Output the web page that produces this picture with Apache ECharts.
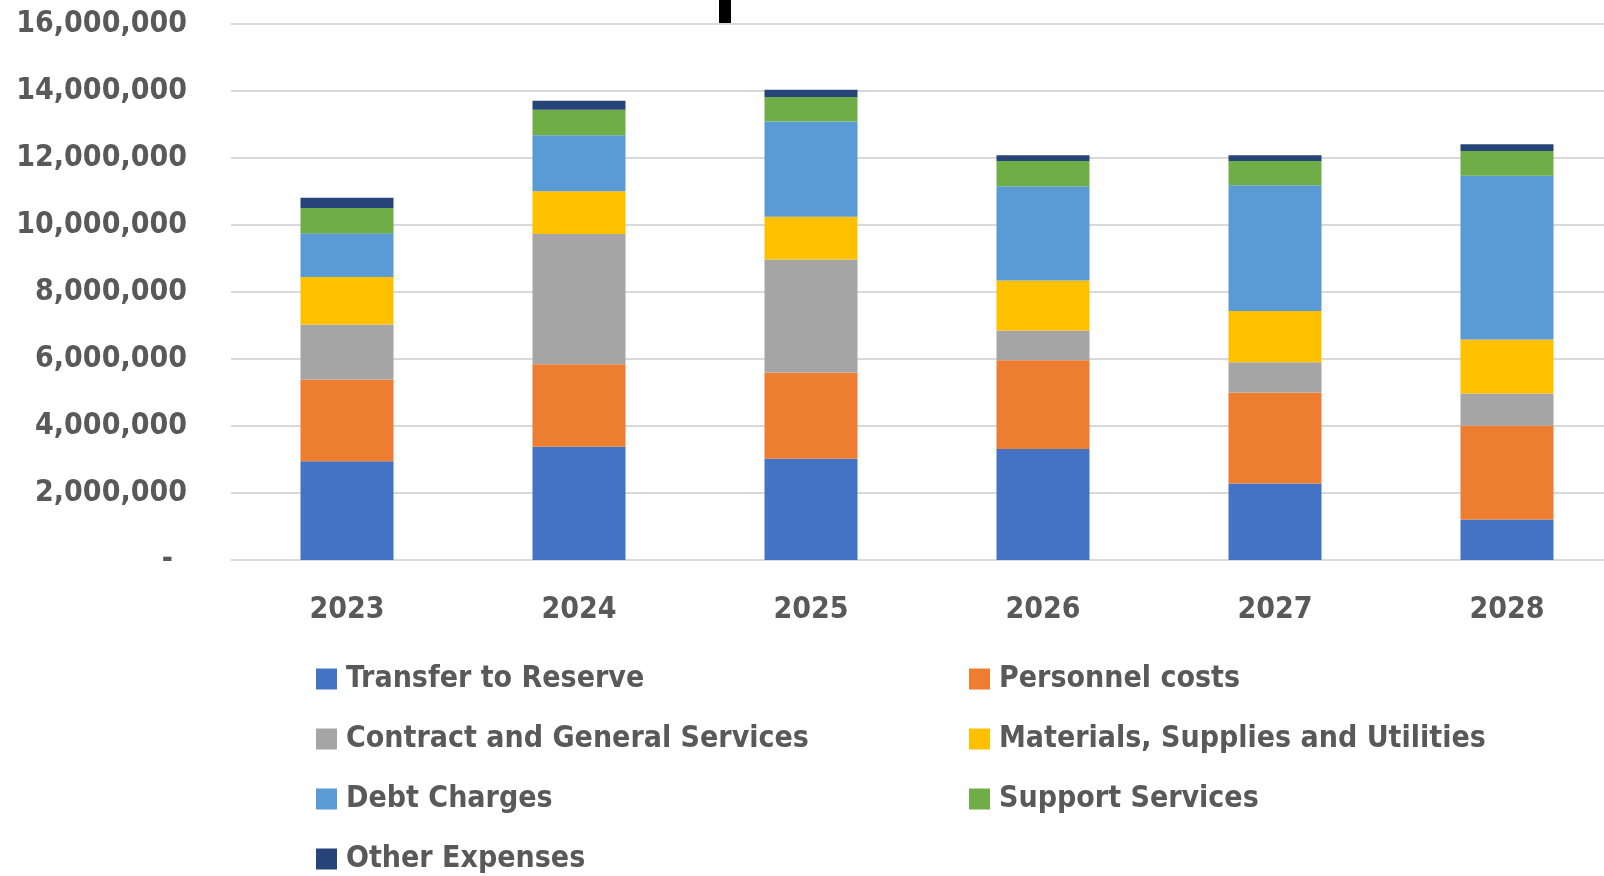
<!DOCTYPE html>
<html>
<head>
<meta charset="utf-8">
<script src="https://cdn.jsdelivr.net/npm/echarts@6/dist/echarts.min.js"></script>
<style>
  html, body { margin: 0; padding: 0; background: #fff; }
  #chart { width: 1604px; height: 876px; }
</style>
</head>
<body>
<div id="chart"></div>
<script>
// Years on the x axis
const years = ['2023', '2024', '2025', '2026', '2027', '2028'];

// Expense categories (stack order, bottom to top)
const transferToReserve = [2950000, 3380000, 3020000, 3310000, 2280000, 1210000];
const personnelCosts = [2440000, 2460000, 2580000, 2650000, 2720000, 2800000];
const contractServices = [1640000, 3890000, 3370000, 890000, 900000, 960000];
const materialsSupplies = [1420000, 1280000, 1280000, 1490000, 1530000, 1610000];
const debtCharges = [1300000, 1670000, 2840000, 2820000, 3760000, 4890000];
const supportServices = [760000, 760000, 730000, 750000, 720000, 740000];
const otherExpenses = [300000, 270000, 220000, 170000, 170000, 200000];

const seriesNames = [
    'Transfer to Reserve', 'Personnel costs', 'Contract and General Services',
    'Materials, Supplies and Utilities', 'Debt Charges', 'Support Services', 'Other Expenses'
];
const seriesData = [
    transferToReserve, personnelCosts, contractServices,
    materialsSupplies, debtCharges, supportServices, otherExpenses
];
const colors = ['#4472C4', '#ED7D31', '#A5A5A5', '#FFC000', '#5B9BD5', '#70AD47', '#264478'];

const font = "'Liberation Sans Narrow', 'DejaVu Sans Condensed', 'Open Sans', sans-serif";
const textColor = '#595959';

const chart = echarts.init(document.getElementById('chart'));

// two legend columns, like the original layout
const legendStyle = {
    orient: 'vertical',
    icon: 'rect',
    itemWidth: 21,
    itemHeight: 21,
    itemGap: 30,
    top: 664,
    padding: 0,
    textStyle: { fontFamily: font, fontSize: 30, fontWeight: 'bold', color: textColor, lineHeight: 30, padding: [0, 0, 0, 4] }
};

chart.setOption({
    color: colors,
    animation: false,
    grid: { left: 231, right: -19, top: 24, bottom: 316, outerBoundsMode: 'none' },
    legend: [
        Object.assign({}, legendStyle, { left: 316, data: [seriesNames[0], seriesNames[2], seriesNames[4], seriesNames[6]] }),
        Object.assign({}, legendStyle, { left: 969, data: [seriesNames[1], seriesNames[3], seriesNames[5]] })
    ],
    xAxis: {
        type: 'category',
        data: years,
        axisLine: { show: false },
        axisTick: { show: false },
        axisLabel: { fontFamily: font, fontSize: 30, fontWeight: 'bold', color: textColor, margin: 35 }
    },
    yAxis: {
        type: 'value',
        min: 0,
        max: 16000000,
        interval: 2000000,
        axisLine: { show: false },
        axisTick: { show: false },
        splitLine: { lineStyle: { color: '#d9d9d9', width: 2 } },
        axisLabel: {
            fontFamily: font, fontSize: 30, fontWeight: 'bold', color: textColor, margin: 44,
            formatter: function (v) {
                return v === 0 ? '{z|-}' : v.toLocaleString('en-US');
            },
            rich: { z: { fontFamily: font, fontSize: 30, fontWeight: 'bold', color: textColor, padding: [0, 14, 0, 0] } }
        }
    },
    graphic: [
        { type: 'rect', left: 719, top: 0, shape: { width: 12, height: 23 }, style: { fill: '#000' } }
    ],
    series: seriesNames.map((name, i) => ({
        name: name,
        type: 'bar',
        stack: 'total',
        barWidth: 93,
        data: seriesData[i]
    }))
});
</script>
</body>
</html>
